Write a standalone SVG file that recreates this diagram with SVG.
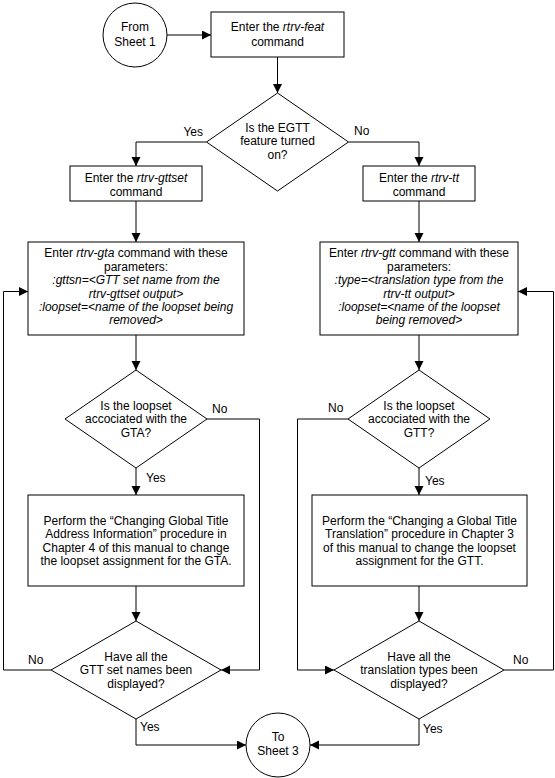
<svg xmlns="http://www.w3.org/2000/svg" width="555" height="778" viewBox="0 0 555 778">
<defs>
<marker id="ah" markerUnits="userSpaceOnUse" markerWidth="10" markerHeight="10" refX="9" refY="4.5" orient="auto">
<path d="M0,0 L9,4.5 L0,9 z" fill="#000"/>
</marker>
<style>
.s{fill:#fff;stroke:#000;stroke-width:1}
.c{fill:none;stroke:#000;stroke-width:1;marker-end:url(#ah)}
text{font-family:"Liberation Sans",Arial,sans-serif;font-size:12px;fill:#000}
.m{text-anchor:middle}
.i{font-style:italic}
</style>
</defs>
<rect width="555" height="778" fill="#fff"/>
<g id="connectors">
<path class="c" d="M167,35 H211"/>
<path class="c" d="M277.5,57 V93"/>
<path class="c" d="M206.5,142 H136 V166"/>
<path class="c" d="M348.5,142 H419 V166"/>
<path class="c" d="M136,201 V242"/>
<path class="c" d="M419,201 V242"/>
<path class="c" d="M136,335 V370"/>
<path class="c" d="M419,335 V370"/>
<path class="c" d="M136,468 V495"/>
<path class="c" d="M419,468 V495"/>
<path class="c" d="M136,586 V621"/>
<path class="c" d="M419,586 V621"/>
<path class="c" d="M207,419 H259.5 V670 H221"/>
<path class="c" d="M51,670 H3.5 V291.5 H28"/>
<path class="c" d="M348,419 H297.5 V670 H334"/>
<path class="c" d="M504,670 H553.5 V291.5 H518"/>
<path class="c" d="M136,719 V745 H246"/>
<path class="c" d="M419,719 V745 H310"/>
<text x="203" y="136" text-anchor="end">Yes</text>
<text x="354" y="135">No</text>
<text x="212" y="413">No</text>
<text x="146" y="482">Yes</text>
<text x="328" y="412">No</text>
<text x="425" y="485">Yes</text>
<text x="28" y="664">No</text>
<text x="513" y="664">No</text>
<text x="140" y="731">Yes</text>
<text x="423" y="733">Yes</text>
</g>
<g id="from-sheet1">
<circle class="s" cx="135" cy="35" r="32"/>
<text class="m" x="135" y="31">From</text>
<text class="m" x="135" y="46">Sheet 1</text>
</g>
<g id="rtrv-feat">
<rect class="s" x="211" y="12" width="133" height="45"/>
<text class="m" x="277.5" y="31">Enter the <tspan class="i">rtrv-feat</tspan></text>
<text class="m" x="277.5" y="45.5">command</text>
</g>
<g id="egtt-on">
<polygon class="s" points="277.5,93 348.5,142 277.5,191 206.5,142"/>
<text class="m" x="277.5" y="131.8">Is the EGTT</text>
<text class="m" x="277.5" y="145.3">feature turned</text>
<text class="m" x="277.5" y="158.8">on?</text>
</g>
<g id="rtrv-gttset">
<rect class="s" x="70" y="166" width="132" height="35"/>
<text class="m" x="136" y="182">Enter the <tspan class="i">rtrv-gttset</tspan></text>
<text class="m" x="136" y="195.5">command</text>
</g>
<g id="rtrv-tt">
<rect class="s" x="363" y="166" width="112" height="35"/>
<text class="m" x="419" y="182">Enter the <tspan class="i">rtrv-tt</tspan></text>
<text class="m" x="419" y="195.5">command</text>
</g>
<g id="rtrv-gta">
<rect class="s" x="28" y="242" width="216" height="93"/>
<text class="m" x="136" y="257.3">Enter <tspan class="i">rtrv-gta</tspan> command with these</text>
<text class="m" x="136" y="270.7">parameters:</text>
<text class="m i" x="136" y="284.1">:gttsn=&lt;GTT set name from the</text>
<text class="m i" x="136" y="297.5">rtrv-gttset output&gt;</text>
<text class="m i" x="136" y="310.9">:loopset=&lt;name of the loopset being</text>
<text class="m i" x="136" y="324.3">removed&gt;</text>
</g>
<g id="rtrv-gtt">
<rect class="s" x="320" y="242" width="198" height="93"/>
<text class="m" x="419" y="257.3">Enter <tspan class="i">rtrv-gtt</tspan> command with these</text>
<text class="m" x="419" y="270.7">parameters:</text>
<text class="m i" x="419" y="284.1">:type=&lt;translation type from the</text>
<text class="m i" x="419" y="297.5">rtrv-tt output&gt;</text>
<text class="m i" x="419" y="310.9">:loopset=&lt;name of the loopset</text>
<text class="m i" x="419" y="324.3">being removed&gt;</text>
</g>
<g id="gta-loopset">
<polygon class="s" points="136,370 207,419 136,468 65,419"/>
<text class="m" x="136" y="409.8">Is the loopset</text>
<text class="m" x="136" y="423.3">accociated with the</text>
<text class="m" x="136" y="436.8">GTA?</text>
</g>
<g id="gtt-loopset">
<polygon class="s" points="419,370 490,419 419,468 348,419"/>
<text class="m" x="419" y="409.8">Is the loopset</text>
<text class="m" x="419" y="423.3">accociated with the</text>
<text class="m" x="419" y="436.8">GTT?</text>
</g>
<g id="change-gta">
<rect class="s" x="28" y="495" width="216" height="91"/>
<text class="m" x="136" y="524.7">Perform the “Changing Global Title</text>
<text class="m" x="136" y="538.1">Address Information” procedure in</text>
<text class="m" x="136" y="551.5">Chapter 4 of this manual to change</text>
<text class="m" x="136" y="564.9">the loopset assignment for the GTA.</text>
</g>
<g id="change-gtt">
<rect class="s" x="312" y="495" width="215" height="91"/>
<text class="m" x="419.5" y="524.7">Perform the “Changing a Global Title</text>
<text class="m" x="419.5" y="538.1">Translation” procedure in Chapter 3</text>
<text class="m" x="419.5" y="551.5">of this manual to change the loopset</text>
<text class="m" x="419.5" y="564.9">assignment for the GTT.</text>
</g>
<g id="all-gttsets">
<polygon class="s" points="136,621 221,670 136,719 51,670"/>
<text class="m" x="136" y="660.8">Have all the</text>
<text class="m" x="136" y="674.3">GTT set names been</text>
<text class="m" x="136" y="687.8">displayed?</text>
</g>
<g id="all-types">
<polygon class="s" points="419,621 504,670 419,719 334,670"/>
<text class="m" x="419" y="660.8">Have all the</text>
<text class="m" x="419" y="674.3">translation types been</text>
<text class="m" x="419" y="687.8">displayed?</text>
</g>
<g id="to-sheet3">
<circle class="s" cx="278" cy="745" r="32"/>
<text class="m" x="278" y="741">To</text>
<text class="m" x="278" y="755">Sheet 3</text>
</g>
</svg>
